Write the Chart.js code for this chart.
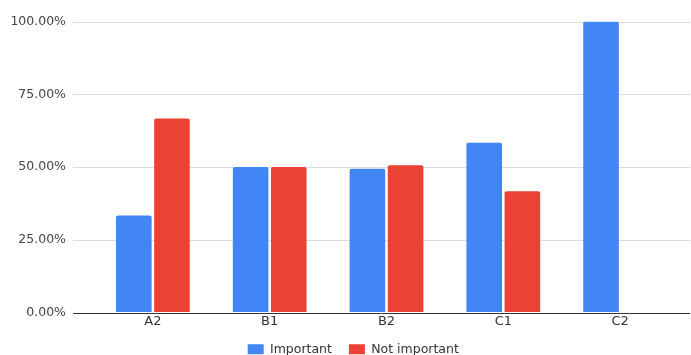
<!DOCTYPE html>
<html>
<head>
<meta charset="utf-8">
<script src="https://cdn.jsdelivr.net/npm/chart.js@4/dist/chart.umd.min.js"></script>
<style>
  html, body { margin: 0; padding: 0; background: #fff; }
  #wrap { width: 691px; height: 355px; position: relative; }
</style>
</head>
<body>
<div id="wrap"><canvas id="c" width="691" height="355"></canvas></div>
<script>
const categories = ['A2', 'B1', 'B2', 'C1', 'C2'];
const important = [33.33, 50, 49.37, 58.33, 100];
const notImportant = [66.67, 50, 50.63, 41.67, 0];
const yTicks = [0, 25, 50, 75, 100];

const FONT = "'DejaVu Sans', 'Liberation Sans', Arial, sans-serif";

// Horizontal gridlines and baseline run a little past the bar area on both sides
const gridPlugin = {
  id: 'wideGrid',
  afterLayout(chart) {
    // legend sits slightly right of the canvas centre
    if (chart.legend) { chart.legend.left += 14; chart.legend.right += 14; }
  },
  beforeDatasetsDraw(chart) {
    const { ctx, scales: { y } } = chart;
    const x0 = 73, x1 = 690;
    ctx.save();
    yTicks.forEach(v => {
      const py = Math.round(y.getPixelForValue(v)) + 0.5;
      ctx.beginPath();
      ctx.lineWidth = 1;
      ctx.strokeStyle = v === 0 ? '#333333' : '#dcdcdc';
      ctx.moveTo(x0, py);
      ctx.lineTo(x1, py);
      ctx.stroke();
    });
    ctx.restore();
  }
};

new Chart(document.getElementById('c'), {
  type: 'bar',
  data: {
    labels: categories,
    datasets: [
      { label: 'Important', data: important, backgroundColor: '#4285F4', borderRadius: 2, borderSkipped: 'bottom' },
      { label: 'Not important', data: notImportant, backgroundColor: '#EA4335', borderRadius: 2, borderSkipped: 'bottom' }
    ]
  },
  options: {
    responsive: false,
    animation: false,
    events: [],
    layout: { padding: { top: 21.5, right: 12.5, left: 0, bottom: 0 } },
    datasets: { bar: { categoryPercentage: 0.653, barPercentage: 0.934 } },
    scales: {
      x: {
        afterFit(scale) { scale.height = 13.5; },
        grid: { display: false, drawTicks: false },
        border: { display: false },
        ticks: { color: '#333333', font: { family: FONT, size: 13 }, mirror: true, padding: -17 }
      },
      y: {
        min: 0, max: 100,
        afterBuildTicks(scale) { scale.ticks = yTicks.map(v => ({ value: v })); },
        afterFit(scale) { scale.width = 94.5; },
        grid: { display: true, drawOnChartArea: false, drawTicks: true, tickLength: 21.5, color: 'rgba(0,0,0,0)' },
        border: { display: false },
        ticks: {
          color: '#444444',
          font: { family: FONT, size: 12.5 },
          padding: 7,
          callback: v => v.toFixed(2) + '%'
        }
      }
    },
    plugins: {
      legend: {
        position: 'bottom',
        maxHeight: 29,
        labels: { color: '#333333', font: { family: FONT, size: 12.5 }, boxWidth: 16, boxHeight: 10, padding: 17 }
      },
      tooltip: { enabled: false }
    }
  },
  plugins: [gridPlugin]
});
</script>
</body>
</html>
